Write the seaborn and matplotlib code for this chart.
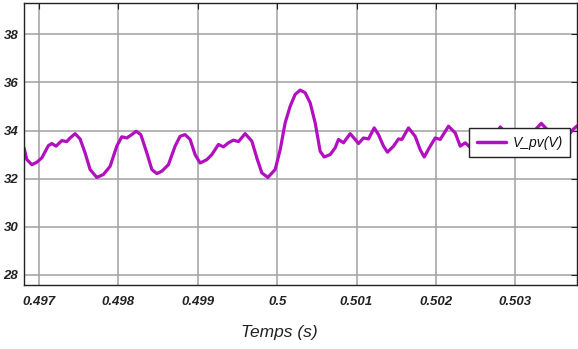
import seaborn as sns
import pandas as pd
import matplotlib.pyplot as plt

# PV voltage trace
temps = [0.496811, 0.496845, 0.496908, 0.496971, 0.497034, 0.497117, 0.497160, 0.497214,
         0.497286, 0.497349, 0.497391, 0.497454, 0.497517, 0.497580, 0.497643, 0.497727,
         0.497810, 0.497895, 0.497979, 0.498042, 0.498105, 0.498168, 0.498223, 0.498282,
         0.498358, 0.498421, 0.498484, 0.498547, 0.498630, 0.498714, 0.498777, 0.498840,
         0.498903, 0.498966, 0.499029, 0.499114, 0.499177, 0.499260, 0.499323, 0.499386,
         0.499449, 0.499512, 0.499597, 0.499681, 0.499744, 0.499807, 0.499883, 0.499975,
         0.500038, 0.500101, 0.500164, 0.500227, 0.500290, 0.500353, 0.500416, 0.500479,
         0.500542, 0.500592, 0.500668, 0.500731, 0.500773, 0.500836, 0.500920, 0.500983,
         0.501025, 0.501088, 0.501151, 0.501223, 0.501277, 0.501340, 0.501390, 0.501466,
         0.501529, 0.501572, 0.501655, 0.501739, 0.501803, 0.501853, 0.501929, 0.501992,
         0.502055, 0.502159, 0.502244, 0.502307, 0.502370, 0.502433, 0.502559, 0.502685,
         0.502811, 0.502937, 0.503063, 0.503189, 0.503328, 0.503441, 0.503567, 0.503668,
         0.503731, 0.503782]
v_pv = [33.28, 32.80, 32.58, 32.68, 32.86, 33.37, 33.46, 33.35,
        33.58, 33.54, 33.69, 33.87, 33.65, 33.07, 32.38, 32.05,
        32.17, 32.51, 33.35, 33.74, 33.69, 33.83, 33.97, 33.83,
        33.07, 32.38, 32.21, 32.31, 32.58, 33.35, 33.76, 33.83,
        33.63, 33.00, 32.65, 32.79, 33.00, 33.42, 33.32, 33.49,
        33.60, 33.54, 33.87, 33.56, 32.86, 32.24, 32.05, 32.38,
        33.20, 34.32, 35.01, 35.50, 35.68, 35.57, 35.15, 34.32,
        33.14, 32.90, 33.00, 33.28, 33.63, 33.49, 33.87, 33.63,
        33.46, 33.69, 33.65, 34.11, 33.83, 33.35, 33.10, 33.35,
        33.65, 33.63, 34.11, 33.76, 33.20, 32.90, 33.35, 33.69,
        33.63, 34.18, 33.90, 33.35, 33.49, 33.30, 33.60, 33.40,
        34.15, 33.70, 33.40, 33.80, 34.30, 33.90, 33.70, 33.80,
        34.05, 34.20]

x_ticks = [0.497, 0.498, 0.499, 0.5, 0.501, 0.502, 0.503]
x_labels = ["0.497", "0.498", "0.499", "0.5", "0.501", "0.502", "0.503"]
y_ticks = [28, 30, 32, 34, 36, 38]

df = pd.DataFrame({"Temps": temps, "V_pv(V)": v_pv})

sns.set_style("white")
plt.rcParams["font.family"] = ["Liberation Sans", "DejaVu Sans"]

fig = plt.figure(figsize=(5.78, 3.49), dpi=100)
ax = fig.add_axes([0.0415, 0.1834, 0.957, 0.808])

sns.lineplot(data=df, x="Temps", y="V_pv(V)", ax=ax, color="#b20fc0",
             linewidth=2.3, label="V_pv(V)")

ax.set_xlim(0.49681, 0.50378)
ax.set_ylim(27.58, 39.3)
ax.set_xticks(x_ticks)
ax.set_xticklabels(x_labels)
ax.set_yticks(y_ticks)
ax.grid(True, color="#a0a0a0", linewidth=1.1)
ax.tick_params(direction="in", length=4, top=True, right=True, colors="#222222",
               labelsize=9.5)
ax.tick_params(axis="x", pad=8)
ax.tick_params(axis="y", pad=4)
for lbl in ax.get_xticklabels() + ax.get_yticklabels():
    lbl.set_fontweight("bold")
    lbl.set_fontstyle("italic")
for sp in ax.spines.values():
    sp.set_color("#222222")
    sp.set_linewidth(1.0)

ax.set_xlabel("Temps (s)", fontsize=12.5, fontstyle="italic", color="#222222")
ax.xaxis.set_label_coords(0.461, -0.142)
ax.set_ylabel("")

leg = ax.legend(loc="upper left", bbox_to_anchor=(0.805, 0.557), borderaxespad=0,
                fancybox=False, frameon=True, framealpha=1, handlelength=2.1,
                borderpad=0.55, handletextpad=0.45,
                prop={"size": 10, "style": "italic"})
leg.get_frame().set_edgecolor("#222222")
leg.get_frame().set_linewidth(1.0)
for text in leg.get_texts():
    text.set_color("#111111")
for line in leg.get_lines():
    line.set_linewidth(2.5)

plt.savefig("out.png", dpi=100)
